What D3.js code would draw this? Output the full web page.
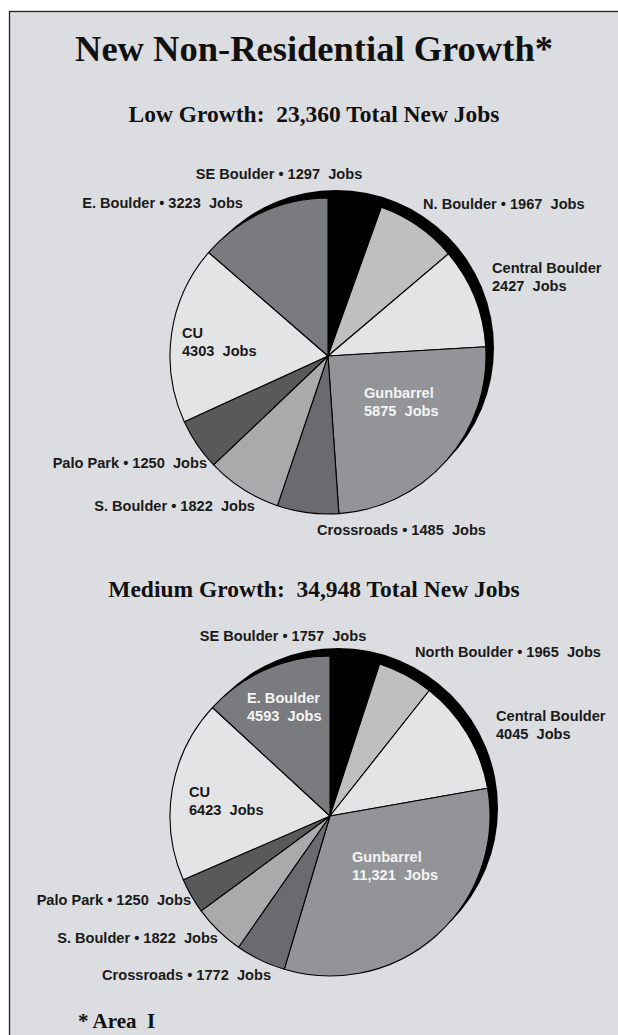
<!DOCTYPE html>
<html>
<head>
	<meta charset="utf-8" />
	<title>New Non-Residential Growth</title>
	<script src="https://d3js.org/d3.v7.min.js"></script>
</head>
<style>
	body {
		margin: 0;
		background: #fff;
	}
	.title {
		font-family: 'Liberation Serif', 'Times New Roman', serif;
		font-weight: bold;
		fill: #111;
		white-space: pre;
	}
	.lbl {
		font-family: 'Liberation Sans', Arial, sans-serif;
		font-weight: bold;
		font-size: 14.6px;
		fill: #1a1a1a;
		white-space: pre;
	}
	.lbl.white {
		fill: #f4f4f4;
	}
</style>
<body>
	<script>
		// slices, clockwise from 12 o'clock
		var lowNames = ["SE Boulder", "N. Boulder", "Central Boulder", "Gunbarrel", "Crossroads", "S. Boulder", "Palo Park", "CU", "E. Boulder"];
		var lowJobs = [1297, 1967, 2427, 5875, 1485, 1822, 1250, 4303, 3223];
		var medNames = ["SE Boulder", "North Boulder", "Central Boulder", "Gunbarrel", "Crossroads", "S. Boulder", "Palo Park", "CU", "E. Boulder"];
		var medJobs = [1757, 1965, 4045, 11321, 1772, 1822, 1250, 6423, 4593];
		var lowTotal = "23,360";
		var medTotal = "34,948";

		var sliceColors = ["#000000", "#bebfc1", "#e3e4e6", "#939497", "#6a6b6e", "#a9aaac", "#58595b", "#e3e4e6", "#7a7b7e"];

		var width = 618, height = 1035;
		var svg = d3.select("body")
					.append("svg")
					.attr("width", width)
					.attr("height", height);

		// grey panel with border
		svg.append("rect")
			.attr("x", 9.5).attr("y", 11.5)
			.attr("width", 700).attr("height", 1100)
			.attr("fill", "#dcdde0")
			.attr("stroke", "#222")
			.attr("stroke-width", 1.3);

		svg.append("text").attr("class", "title")
			.attr("x", 314).attr("y", 61)
			.attr("text-anchor", "middle")
			.style("font-size", "36.5px")
			.text("New Non-Residential Growth*");

		svg.append("text").attr("class", "title")
			.attr("x", 314).attr("y", 122)
			.attr("text-anchor", "middle")
			.style("font-size", "23.5px")
			.text("Low Growth:  " + lowTotal + " Total New Jobs");

		svg.append("text").attr("class", "title")
			.attr("x", 314).attr("y", 597)
			.attr("text-anchor", "middle")
			.style("font-size", "23.5px")
			.text("Medium Growth:  " + medTotal + " Total New Jobs");

		svg.append("text").attr("class", "title")
			.attr("x", 78).attr("y", 1028)
			.style("font-size", "21px")
			.text("* Area  I");

		var fmt = function(v) { return v >= 10000 ? d3.format(",")(v) : String(v); };

		// label placement: [x, y, anchor, two lines?, white?]
		var lowLabelPos = [
			[279, 179, "middle", false, false],
			[423, 209, "start", false, false],
			[492, 273, "start", true, false],
			[364, 398, "start", true, true],
			[317, 535, "start", false, false],
			[255, 511, "end", false, false],
			[207, 468, "end", false, false],
			[182, 338, "start", true, false],
			[243, 208, "end", false, false]
		];
		var medLabelPos = [
			[283, 641, "middle", false, false],
			[415, 657, "start", false, false],
			[496, 721, "start", true, false],
			[352, 862, "start", true, true],
			[271, 980, "end", false, false],
			[218, 943, "end", false, false],
			[191, 905, "end", false, false],
			[189, 797, "start", true, false],
			[247, 703, "start", true, true]
		];

		function drawPie(names, jobs, cx, cy, r, labelPos) {
			var color = d3.scaleOrdinal().domain(names).range(sliceColors);
			var arcs = d3.pie().sort(null).value(function(d) { return d; })(jobs);
			var arc = d3.arc().innerRadius(0).outerRadius(r);

			var g = svg.append("g")
						.attr("transform", "translate(" + cx + "," + cy + ")");
			// black offset disc behind the pie
			g.append("circle")
				.attr("cx", 8).attr("cy", -8).attr("r", r)
				.attr("fill", "#000");
			g.selectAll("path")
				.data(arcs)
				.enter().append("path")
				.attr("d", arc)
				.attr("fill", function(d, i) { return color(names[i]); })
				.attr("stroke", "#000")
				.attr("stroke-width", 1.1)
				.attr("stroke-linejoin", "round");

			names.forEach(function(name, i) {
				var p = labelPos[i];
				var t = svg.append("text")
							.attr("class", p[4] ? "lbl white" : "lbl")
							.attr("x", p[0]).attr("y", p[1])
							.attr("text-anchor", p[2]);
				if (p[3]) {
					t.append("tspan").attr("x", p[0]).text(name);
					t.append("tspan").attr("x", p[0]).attr("dy", 18).text(fmt(jobs[i]) + "  Jobs");
				} else {
					t.text(name + " \u2022 " + fmt(jobs[i]) + "  Jobs");
				}
			});
		}

		drawPie(lowNames, lowJobs, 328, 356, 158, lowLabelPos);
		drawPie(medNames, medJobs, 330, 816, 160, medLabelPos);
	</script>
</body>
</html>
